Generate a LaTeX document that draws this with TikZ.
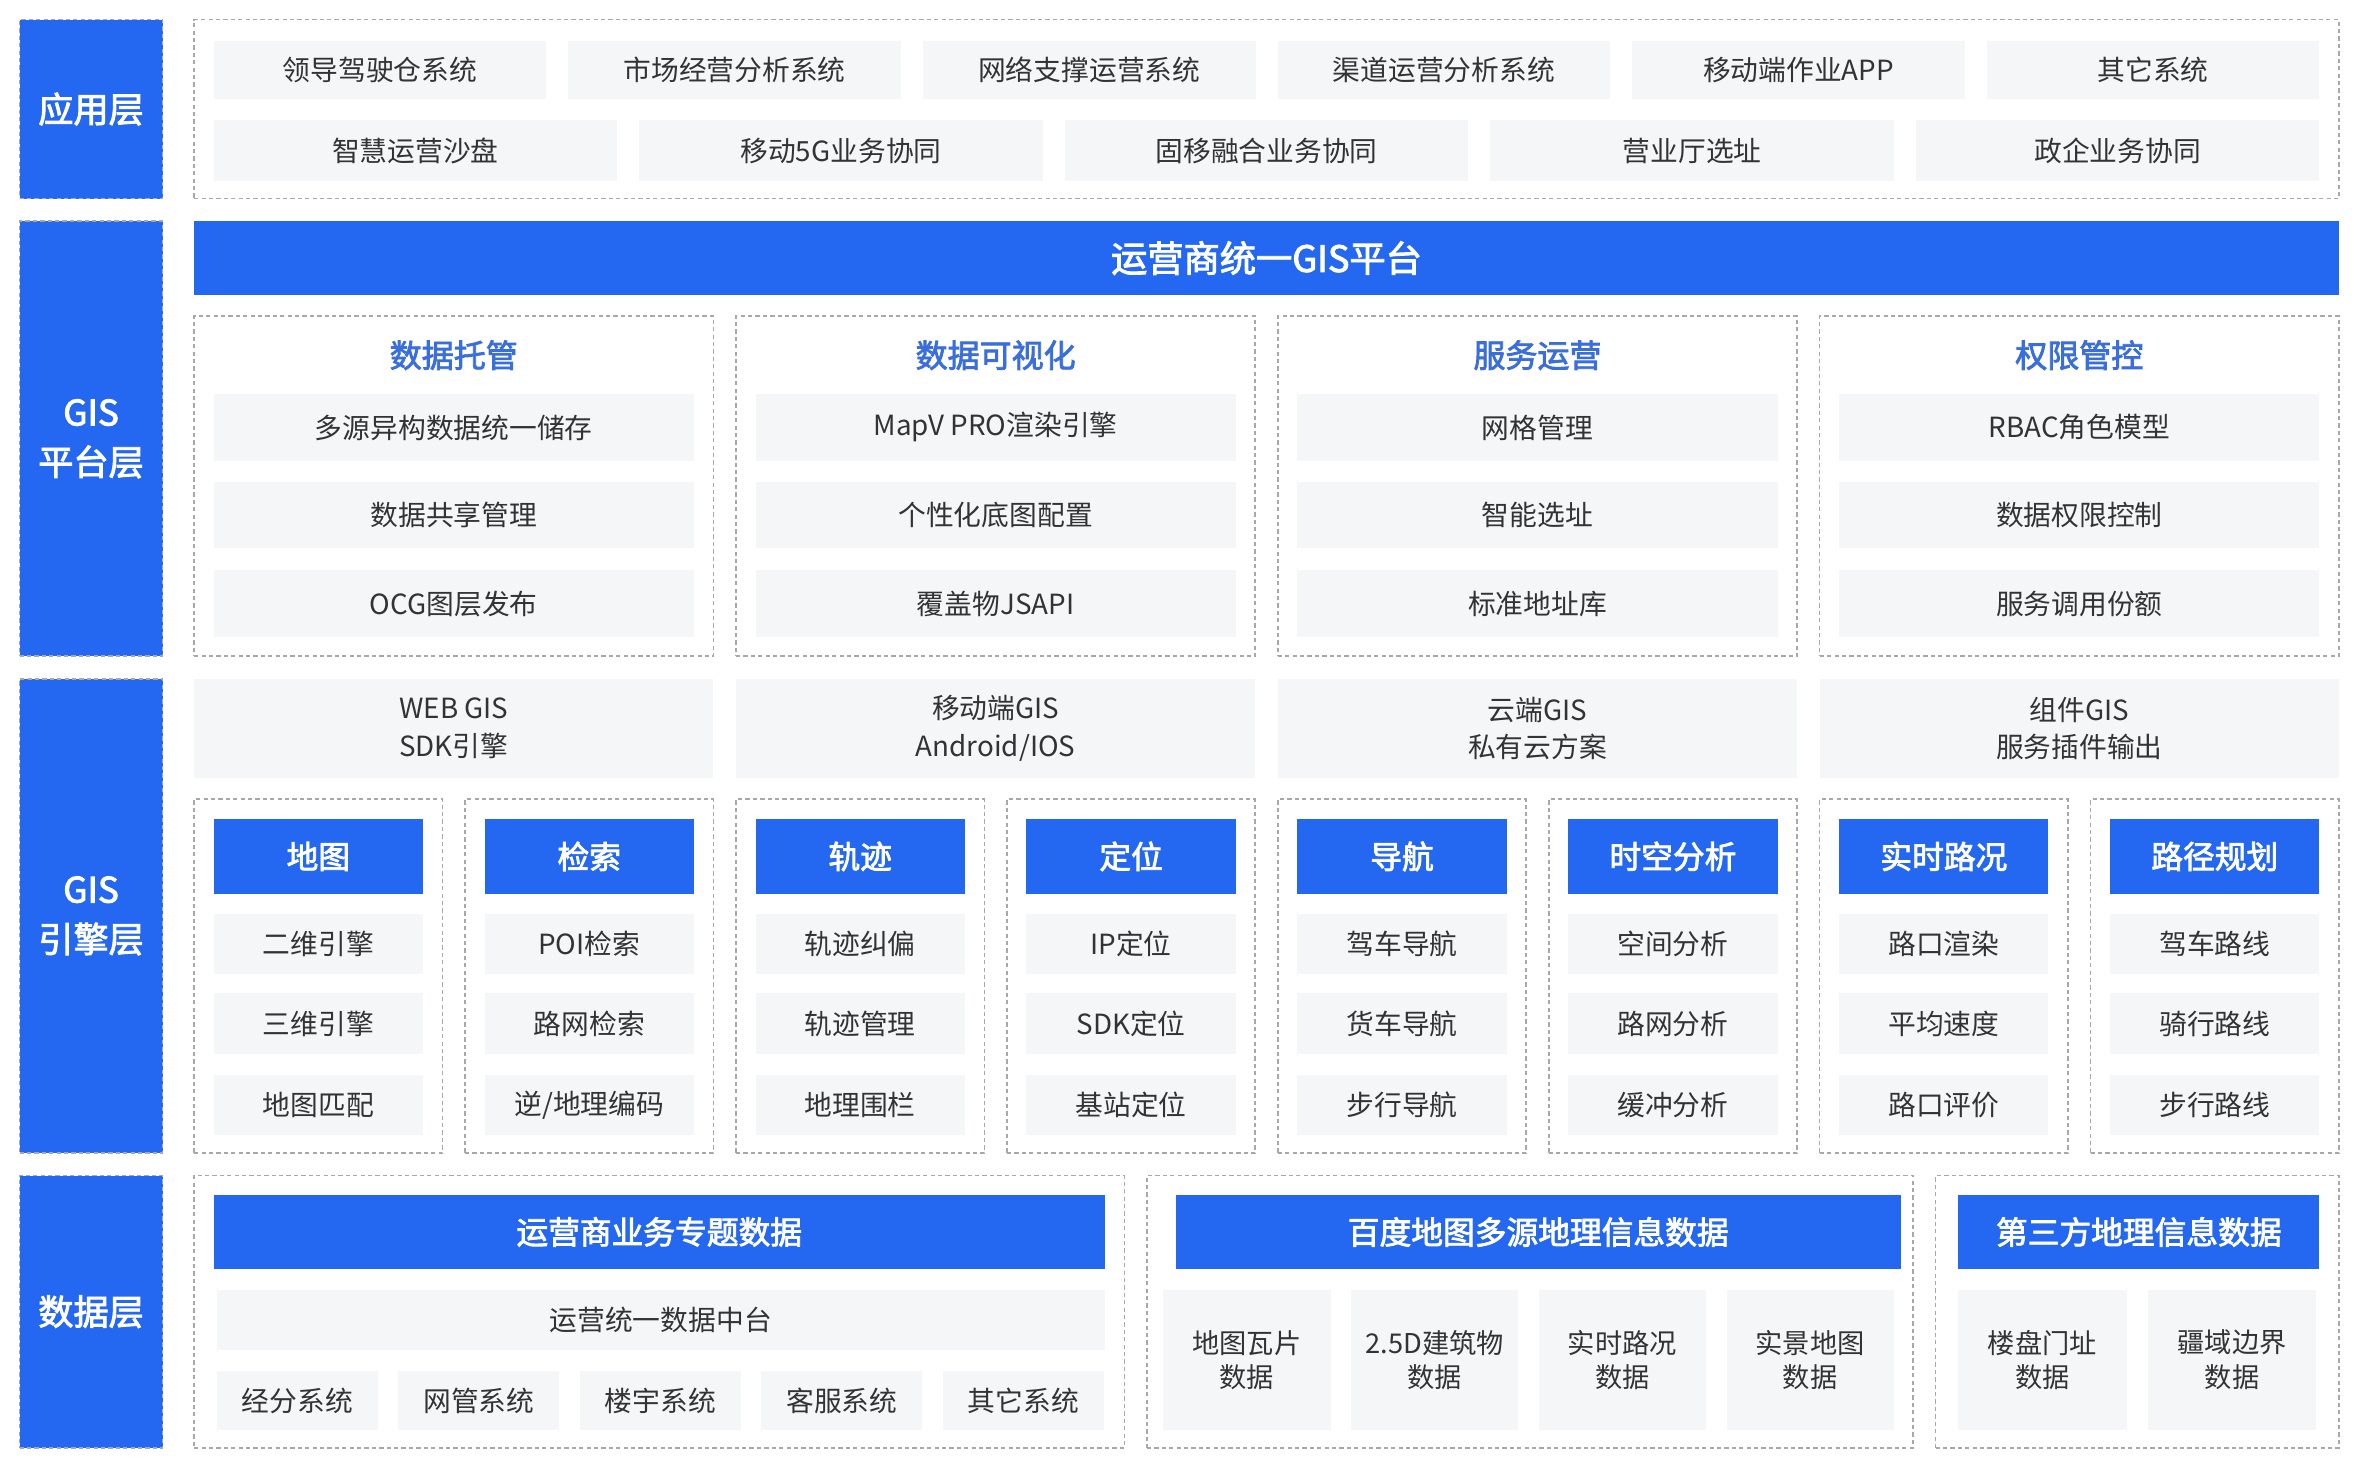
\documentclass[tikz,border=0pt]{standalone}
\usepackage{fontspec}
\setmainfont{Noto Sans CJK SC}
\newfontfamily\medfont{Noto Sans CJK SC}[FakeBold=2.5]
\definecolor{gisBlue}{HTML}{2468F2}
\definecolor{titleBlue}{HTML}{3A6FDB}
\definecolor{itemGray}{HTML}{F5F6F8}
\definecolor{textGray}{HTML}{333333}
\definecolor{frameGray}{HTML}{A8A8A8}

\begin{document}
\begin{tikzpicture}[x=0.02cm,y=-0.02cm,
    sz/.style 2 args={minimum width=#1*0.02cm,minimum height=#2*0.02cm}]
    \tikzstyle{base}=[anchor=north west,inner sep=0pt,outer sep=0pt,align=center]
    \tikzstyle{frameBox}=[base,draw=frameGray,line width=0.6pt,dash pattern=on 1.6pt off 1.2pt]
    \tikzstyle{itemBox}=[base,fill=itemGray,text=textGray,font=\fontsize{10.5}{14.2}\selectfont]
    \tikzstyle{headBox}=[base,fill=gisBlue,text=white,font=\medfont\fontsize{12}{14}\selectfont]
    \tikzstyle{layerBox}=[base,fill=gisBlue,draw=frameGray,line width=0.6pt,dash pattern=on 1.6pt off 1.2pt,text=white,font=\medfont\fontsize{13.3}{18.8}\selectfont]
    \tikzstyle{titleText}=[inner sep=0pt,text=titleBlue,font=\medfont\fontsize{12.1}{14}\selectfont]
    \useasboundingbox (0,0) rectangle (1568,976.7);
    % All layers
    \node (appLayer) [layerBox,sz={95}{119}] at (13,13) {应用层};
    \node (platformLayer) [layerBox,sz={95}{289}] at (13,147) {GIS\\平台层};
    \node (engineLayer) [layerBox,sz={95}{315}] at (13,451) {GIS\\引擎层};
    \node (dataLayer) [layerBox,sz={95}{181}] at (13,781) {数据层};
    % Application layer
    \node (appFrame) [frameBox,sz={1425}{119}] at (129,13) {};
    \foreach \t [count=\i from 0] in {领导驾驶仓系统,市场经营分析系统,网络支撑运营系统,渠道运营分析系统,移动端作业APP,其它系统}
      \node (appA\i) [itemBox,sz={221}{39}] at ({142+\i*235.6},27) {\t};
    \foreach \t [count=\i from 0] in {智慧运营沙盘,移动5G业务协同,固移融合业务协同,营业厅选址,政企业务协同}
      \node (appB\i) [itemBox,sz={268}{40}] at ({142+\i*282.75},80) {\t};
    % GIS platform layer
    \node (platformBar) [headBox,font=\medfont\fontsize{13.7}{16}\selectfont,sz={1425}{49}] at (129,147) {运营商统一GIS平台};
    \foreach \ttl/\a/\b/\c [count=\i from 0] in {数据托管/多源异构数据统一储存/数据共享管理/OCG图层发布,
        数据可视化/MapV PRO渲染引擎/个性化底图配置/覆盖物JSAPI,
        服务运营/网格管理/智能选址/标准地址库,
        权限管控/RBAC角色模型/数据权限控制/服务调用份额}{
      \node (platFrame\i) [frameBox,sz={345}{226}] at ({129+\i*360},210) {};
      \node (platTitle\i) [titleText] at ({301.5+\i*360},236) {\ttl};
      \node (platA\i) [itemBox,sz={319}{44}] at ({142+\i*360},262) {\a};
      \node (platB\i) [itemBox,sz={319}{44}] at ({142+\i*360},320) {\b};
      \node (platC\i) [itemBox,sz={319}{44}] at ({142+\i*360},379) {\c};
    }
    % GIS engine layer
    \foreach \t [count=\i from 0] in {{WEB GIS\\SDK引擎},{移动端GIS\\Android/IOS},{云端GIS\\私有云方案},{组件GIS\\服务插件输出}}
      \node (sdk\i) [itemBox,sz={345}{66}] at ({129+\i*360},451) {\t};
    \foreach \h/\a/\b/\c [count=\i from 0] in {地图/二维引擎/三维引擎/地图匹配,
        检索/POI检索/路网检索/{逆/地理编码},
        轨迹/轨迹纠偏/轨迹管理/地理围栏,
        定位/IP定位/SDK定位/基站定位,
        导航/驾车导航/货车导航/步行导航,
        时空分析/空间分析/路网分析/缓冲分析,
        实时路况/路口渲染/平均速度/路口评价,
        路径规划/驾车路线/骑行路线/步行路线}{
      \node (engFrame\i) [frameBox,sz={165}{235}] at ({129+\i*180},531) {};
      \node (engHead\i) [headBox,sz={139}{50}] at ({142+\i*180},544) {\h};
      \node (engA\i) [itemBox,sz={139}{40}] at ({142+\i*180},607) {\a};
      \node (engB\i) [itemBox,sz={139}{40}] at ({142+\i*180},660) {\b};
      \node (engC\i) [itemBox,sz={139}{40}] at ({142+\i*180},714) {\c};
    }
    % Data layer
    \node (opFrame) [frameBox,sz={618}{181}] at (129,781) {};
    \node (opHead) [headBox,sz={592}{49}] at (142,794) {运营商业务专题数据};
    \node (opCenter) [itemBox,sz={590}{40}] at (144,857) {运营统一数据中台};
    \foreach \t [count=\i from 0] in {经分系统,网管系统,楼宇系统,客服系统,其它系统}
      \node (opSys\i) [itemBox,sz={107}{39}] at ({144+\i*120.6},911) {\t};
    \node (bdFrame) [frameBox,sz={509}{181}] at (762,781) {};
    \node (bdHead) [headBox,sz={482}{49}] at (781,794) {百度地图多源地理信息数据};
    \foreach \t [count=\i from 0] in {{地图瓦片\\数据},{2.5D建筑物\\数据},{实时路况\\数据},{实景地图\\数据}}
      \node (bdData\i) [itemBox,font=\fontsize{10.3}{13}\selectfont,sz={111}{93}] at ({773+\i*124.7},857) {\t};
    \node (tpFrame) [frameBox,sz={268}{181}] at (1286,781) {};
    \node (tpHead) [headBox,sz={240}{49}] at (1301,794) {第三方地理信息数据};
    \node (tpData0) [itemBox,font=\fontsize{10.3}{13}\selectfont,sz={112}{93}] at (1301,857) {楼盘门址\\数据};
    \node (tpData1) [itemBox,font=\fontsize{10.3}{13}\selectfont,sz={112}{93}] at (1427,857) {疆域边界\\数据};
\end{tikzpicture}
\end{document}
